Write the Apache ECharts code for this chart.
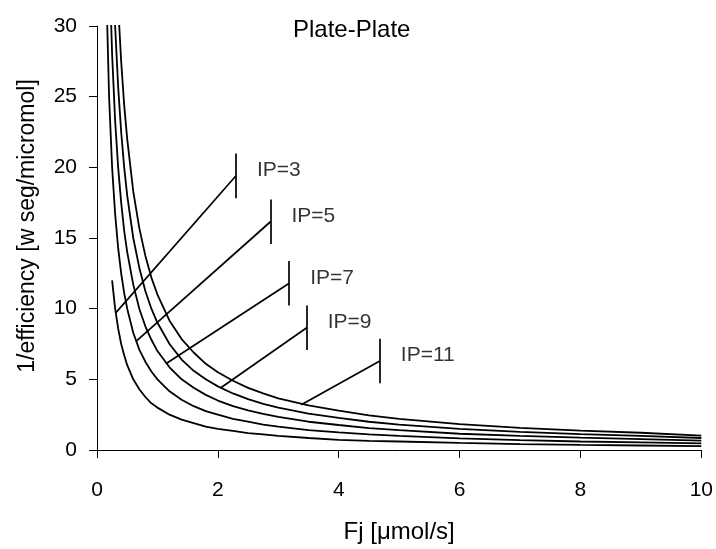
<!DOCTYPE html>
<html><head><meta charset="utf-8">
<script src="https://cdn.jsdelivr.net/npm/echarts@6/dist/echarts.min.js"></script>
<style>html,body{margin:0;padding:0;background:#fff}#c{width:716px;height:549px}</style>
</head><body><div id="c"></div><script>
// Shared x values (Fj, µmol/s)
const xValues = [0.1, 0.12, 0.15, 0.2, 0.25, 0.3, 0.35, 0.4, 0.45, 0.5, 0.6, 0.7, 0.8, 0.9, 1.0, 1.2, 1.4, 1.6, 1.8, 2.0, 2.25, 2.5, 2.75, 3.0, 3.5, 4.0, 4.5, 5.0, 6.0, 7.0, 8.0, 9.0, 10.0];
// 1/efficiency for each IP curve (values above 30 are off the chart)
const ip3  = [null, null, null, null, 12.0, 10.0, 8.6, 7.5, 6.7, 6.0, 5.0, 4.3, 3.75, 3.3, 3.0, 2.5, 2.15, 1.9, 1.65, 1.5, 1.35, 1.2, 1.1, 1.0, 0.85, 0.72, 0.65, 0.6, 0.5, 0.42, 0.36, 0.32, 0.27];
const ip5  = [50, 41.7, 33.3, 25.0, 20.0, 16.7, 14.3, 12.5, 11.1, 10.0, 8.3, 7.1, 6.25, 5.55, 5.0, 4.15, 3.55, 3.1, 2.75, 2.5, 2.2, 2.0, 1.8, 1.65, 1.4, 1.24, 1.1, 1.0, 0.82, 0.7, 0.6, 0.54, 0.47];
const ip7  = [70, 58, 46.7, 35, 28, 23.3, 20, 17.5, 15.5, 14, 11.7, 10, 8.75, 7.8, 7.0, 5.85, 5.0, 4.4, 3.9, 3.5, 3.1, 2.8, 2.55, 2.35, 2.0, 1.77, 1.55, 1.4, 1.15, 1.0, 0.87, 0.77, 0.66];
const ip9  = [90, 75, 60, 45, 36, 30, 25.7, 22.5, 20, 18, 15, 12.9, 11.25, 10, 9.0, 7.5, 6.4, 5.6, 5.0, 4.5, 4.0, 3.6, 3.27, 3.0, 2.57, 2.28, 2.0, 1.8, 1.5, 1.28, 1.12, 1.0, 0.85];
const ip11 = [110, 91.7, 73, 55, 44, 36.7, 31.4, 27.5, 24.4, 22, 18.3, 15.7, 13.75, 12.2, 11.0, 9.15, 7.85, 6.9, 6.1, 5.5, 4.9, 4.4, 4.0, 3.65, 3.15, 2.79, 2.45, 2.2, 1.83, 1.57, 1.37, 1.22, 1.02];
const seriesNames = ['IP=3', 'IP=5', 'IP=7', 'IP=9', 'IP=11'];
const seriesValues = [ip3, ip5, ip7, ip9, ip11];
// Axis ticks
const xTicks = [0, 2, 4, 6, 8, 10];
const yTicks = [0, 5, 10, 15, 20, 25, 30];
// Annotations: leader start on curve, label bar center
const annoLabels = ['IP=3', 'IP=5', 'IP=7', 'IP=9', 'IP=11'];
const annoFromX = [0.31, 0.65, 1.14, 2.05, 3.38];
const annoFromY = [9.7, 7.7, 6.1, 4.4, 3.2];
const annoBarX = [2.30, 2.87, 3.18, 3.47, 4.68];
const annoBarY = [19.4, 16.15, 11.8, 8.65, 6.3];

const FONT = 'Liberation Sans, Arial, Helvetica, sans-serif';
const BAR_HALF = 1.58;

const chart = echarts.init(document.getElementById('c'), null, {renderer: 'canvas'});

const curveSeries = seriesValues.map((vals, i) => ({
  name: seriesNames[i],
  type: 'line',
  data: xValues.map((x, j) => vals[j] == null ? null : [x, vals[j]]),
  showSymbol: false,
  symbol: 'none',
  connectNulls: false,
  clip: true,
  lineStyle: {color: '#000', width: 1.8},
  animation: false,
  silent: true,
  z: 3
}));

const leaderLines = [];
annoLabels.forEach((t, i) => {
  leaderLines.push([{coord: [annoFromX[i], annoFromY[i]]}, {coord: [annoBarX[i], annoBarY[i]]}]);
  leaderLines.push([{coord: [annoBarX[i], annoBarY[i] - BAR_HALF]}, {coord: [annoBarX[i], annoBarY[i] + BAR_HALF]}]);
});

const annoSeries = {
  type: 'scatter',
  data: annoLabels.map((t, i) => ({value: [annoBarX[i], annoBarY[i]], name: t})),
  symbolSize: 0,
  animation: false,
  silent: true,
  label: {
    show: true,
    position: 'right',
    distance: 0,
    offset: [21, -5.5],
    formatter: p => p.name,
    color: '#000',
    fontSize: 21,
    fontFamily: FONT
  },
  markLine: {
    silent: true,
    animation: false,
    symbol: ['none', 'none'],
    label: {show: false},
    lineStyle: {color: '#000', width: 1.7, type: 'solid'},
    emphasis: {disabled: true},
    data: leaderLines
  },
  z: 4
};

chart.setOption({
  backgroundColor: '#fff',
  animation: false,
  title: {
    text: 'Plate-Plate',
    left: 288,
    top: 13,
    textStyle: {fontSize: 24, fontWeight: 'normal', color: '#000', fontFamily: FONT}
  },
  grid: {left: 97, right: 13, top: 26, bottom: 93, containLabel: false},
  xAxis: {
    type: 'value',
    min: xTicks[0],
    max: xTicks[xTicks.length - 1],
    interval: xTicks[1] - xTicks[0],
    name: 'Fj [\u03bcmol/s]',
    nameLocation: 'middle',
    nameGap: 70,
    nameTextStyle: {fontSize: 24, color: '#000', fontFamily: FONT},
    axisLine: {show: true, lineStyle: {color: '#000', width: 1}},
    axisTick: {show: true, inside: false, length: 8, lineStyle: {color: '#000'}},
    axisLabel: {fontSize: 21, color: '#000', fontFamily: FONT, margin: 30},
    splitLine: {show: false}
  },
  yAxis: {
    type: 'value',
    min: yTicks[0],
    max: yTicks[yTicks.length - 1],
    interval: yTicks[1] - yTicks[0],
    name: '1/efficiency [w seg/micromol]',
    nameLocation: 'middle',
    nameGap: 58,
    nameRotate: 90,
    nameTextStyle: {fontSize: 23, color: '#000', fontFamily: FONT, padding: [0, 0, 0, 24]},
    axisLine: {show: true, lineStyle: {color: '#000', width: 1}},
    axisTick: {show: true, inside: false, length: 8, lineStyle: {color: '#000'}},
    axisLabel: {fontSize: 21, color: '#000', fontFamily: FONT, margin: 20},
    splitLine: {show: false}
  },
  series: curveSeries.concat([annoSeries])
});
</script></body></html>
